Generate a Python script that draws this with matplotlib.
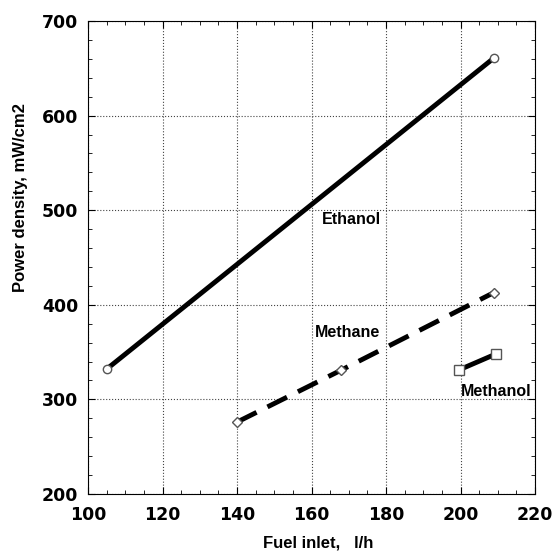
import numpy as np
import matplotlib.pyplot as plt
from matplotlib.ticker import MultipleLocator

# data
ethanol_x = [105, 209]
ethanol_y = [332, 661]
methane_x = [140, 168, 209]
methane_y = [276, 331, 413]
methanol_x = [199.5, 209.5]
methanol_y = [331, 348]

plt.rcParams['font.family'] = ['Liberation Sans', 'DejaVu Sans']

fig = plt.figure(figsize=(5.57, 5.54), dpi=100)
ax = fig.add_axes([88/557, 60/554, 447/557, 473/554])

ax.plot(ethanol_x, ethanol_y, color='black', lw=3.5, marker='o', ms=6,
        mfc='white', mec='#555555', mew=1)
ax.plot(methane_x, methane_y, color='black', lw=3.5, ls=(0, (4.5, 2.5)), marker='D', ms=5,
        mfc='white', mec='#555555', mew=1)
ax.plot(methanol_x, methanol_y, color='black', lw=3.5, marker='s', ms=7,
        mfc='white', mec='#555555', mew=1)

ax.text(162.8, 485, 'Ethanol', fontsize=11.5, fontweight='bold')
ax.text(161, 366, 'Methane', fontsize=11.5, fontweight='bold')
ax.text(200, 304, 'Methanol', fontsize=11.5, fontweight='bold')

ax.set_xlim(100, 220)
ax.set_ylim(200, 700)
ax.xaxis.set_major_locator(MultipleLocator(20))
ax.xaxis.set_minor_locator(MultipleLocator(5))
ax.yaxis.set_major_locator(MultipleLocator(100))
ax.yaxis.set_minor_locator(MultipleLocator(20))
ax.tick_params(which='both', direction='in', top=True, right=True)
ax.tick_params(which='major', length=5, labelsize=12.5)
ax.tick_params(axis='x', which='major', pad=9)
ax.tick_params(axis='y', which='major', pad=7)
ax.tick_params(which='minor', length=3)
for lab in ax.get_xticklabels() + ax.get_yticklabels():
    lab.set_fontweight('bold')
    lab.set_family(['DejaVu Sans'])
ax.grid(True, which='major', ls=':', color='#444444', lw=0.8)
for s in ax.spines.values():
    s.set_linewidth(0.8)

ax.set_xlabel('Fuel inlet,   l/h', fontsize=12, fontweight='bold')
ax.set_ylabel('Power density, mW/cm2', fontsize=12, fontweight='bold')
ax.xaxis.set_label_coords(0.5 + 7/447, -42/473)
ax.yaxis.set_label_coords(-60/447, 0.626)

fig.savefig('out.png', dpi=100)
